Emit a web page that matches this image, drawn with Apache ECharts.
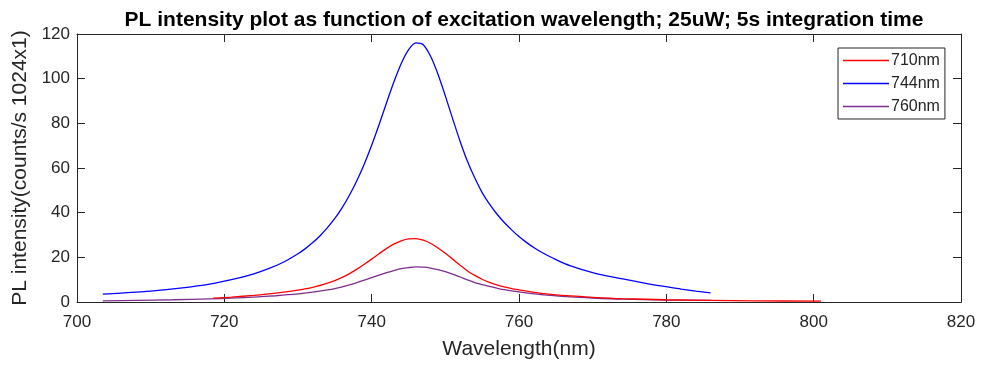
<!DOCTYPE html>
<html>
<head>
<meta charset="utf-8">
<script src="https://cdn.jsdelivr.net/npm/echarts@6/dist/echarts.min.js"></script>
<style>
  html, body { margin: 0; padding: 0; background: #fff; }
  #chart { width: 982px; height: 369px; }
</style>
</head>
<body>
<div id="chart"></div>
<script>
// Excitation spectra: wavelength (nm) and PL intensity for each excitation line
const wl710 = [718.5, 721, 724, 727, 730, 732, 734, 735, 736, 737, 738, 739, 740, 741, 742, 743, 744, 745, 746, 747, 748, 749, 750, 751, 752, 753, 754, 755, 756, 757, 758, 760, 763, 767, 770, 774, 780, 786, 792, 801];
const pl710 = [1.7, 2.2, 3.0, 4.0, 5.3, 6.5, 8.4, 9.6, 11.0, 12.7, 14.7, 16.9, 19.2, 21.6, 23.9, 25.9, 27.4, 28.3, 28.4, 27.7, 26.3, 24.2, 21.8, 19.2, 16.5, 13.9, 11.9, 10.2, 8.8, 7.7, 6.8, 5.4, 3.9, 2.7, 2.1, 1.5, 1.0, 0.7, 0.5, 0.4];

const wl744 = [703.5, 706, 710, 714, 718, 722, 724, 726, 728, 730, 731, 732, 733, 734, 735, 736, 737, 738, 739, 740, 741, 742, 743, 744, 745, 746, 747, 748, 749, 750, 751, 752, 753, 754, 755, 756, 757, 758, 759, 760, 761, 762, 763, 765, 767, 770, 773, 776, 779, 782, 784, 786];
const pl744 = [3.5, 4.0, 4.9, 6.2, 8.0, 10.8, 12.6, 14.9, 17.8, 21.6, 23.9, 26.6, 29.7, 33.3, 37.4, 42.3, 47.9, 54.4, 61.8, 70.2, 79.4, 89.0, 98.4, 106.7, 112.9, 116.0, 115.2, 110.0, 102.0, 92.3, 82.0, 72.0, 63.0, 55.5, 49.0, 43.8, 39.4, 35.6, 32.3, 29.3, 26.7, 24.4, 22.4, 19.0, 16.2, 13.2, 11.0, 9.1, 7.3, 5.8, 4.9, 4.1];

const wl760 = [703.5, 708, 713, 718, 721, 724, 727, 730, 732, 734, 735, 736, 737, 738, 739, 740, 741, 742, 743, 744, 745, 746, 747, 748, 749, 750, 751, 752, 753, 754, 755, 756, 757, 758, 760, 763, 767, 770, 774, 780, 786];
const pl760 = [0.5, 0.7, 1.0, 1.4, 1.7, 2.2, 2.8, 3.6, 4.4, 5.4, 6.0, 6.8, 7.7, 8.7, 9.8, 10.9, 12.0, 13.1, 14.1, 14.9, 15.4, 15.7, 15.6, 15.2, 14.5, 13.6, 12.5, 11.2, 9.9, 8.7, 7.8, 7.0, 6.2, 5.5, 4.5, 3.3, 2.3, 1.8, 1.3, 0.9, 0.7];

const seriesNames = ['710nm', '744nm', '760nm'];
const seriesColors = ['#ff0000', '#0000ff', '#7e2f8e'];
const xTicks = [700, 720, 740, 760, 780, 800, 820];
const yTicks = [0, 20, 40, 60, 80, 100, 120];

const pairs = (xs, ys) => xs.map((x, i) => [x, ys[i]]);
const dataSets = [pairs(wl710, pl710), pairs(wl744, pl744), pairs(wl760, pl760)];

const FONT = '"Liberation Sans", Arial, Helvetica, sans-serif';
const AX = '#262626';

const chart = echarts.init(document.getElementById('chart'), null, { renderer: 'canvas' });

const baseX = {
  type: 'value',
  min: xTicks[0],
  max: xTicks[xTicks.length - 1],
  interval: xTicks[1] - xTicks[0],
  splitLine: { show: false },
  axisLine: { show: true, onZero: false, lineStyle: { color: AX, width: 1 } },
  axisTick: { show: true, inside: true, length: 8, lineStyle: { color: AX, width: 1 } }
};
const baseY = {
  type: 'value',
  min: yTicks[0],
  max: yTicks[yTicks.length - 1],
  interval: yTicks[1] - yTicks[0],
  splitLine: { show: false },
  axisLine: { show: true, onZero: false, lineStyle: { color: AX, width: 1 } },
  axisTick: { show: true, inside: true, length: 8, lineStyle: { color: AX, width: 1 } }
};

chart.setOption({
  animation: false,
  backgroundColor: '#ffffff',
  title: {
    text: 'PL intensity plot as function of excitation wavelength; 25uW; 5s integration time',
    left: 519,
    textAlign: 'center',
    top: 5,
    textStyle: { fontFamily: FONT, fontSize: 21, fontWeight: 'bold', color: '#000' }
  },
  grid: { left: 77, right: 21, top: 34, bottom: 67, containLabel: false },
  legend: {
    data: seriesNames,
    orient: 'vertical',
    left: 838,
    top: 48,
    backgroundColor: '#fff',
    borderColor: AX,
    borderWidth: 1,
    padding: [1, 5, 1, 5],
    itemGap: 0,
    itemWidth: 46,
    itemHeight: 1.5,
    icon: 'rect',
    textStyle: { fontFamily: FONT, fontSize: 16, color: AX, padding: [0, 0, 0, -3], lineHeight: 23, height: 23 }
  },
  xAxis: [
    Object.assign({}, baseX, {
      position: 'bottom',
      name: 'Wavelength(nm)',
      nameLocation: 'middle',
      nameGap: 37,
      nameTextStyle: { fontFamily: FONT, fontSize: 21, color: AX },
      axisLabel: { fontFamily: FONT, fontSize: 17, color: AX, margin: 12 }
    }),
    Object.assign({}, baseX, { position: 'top', axisLabel: { show: false } })
  ],
  yAxis: [
    Object.assign({}, baseY, {
      position: 'left',
      name: 'PL intensity(counts/s 1024x1)',
      nameLocation: 'middle',
      nameGap: 40,
      nameTextStyle: { fontFamily: FONT, fontSize: 21, color: AX },
      axisLabel: { fontFamily: FONT, fontSize: 17, color: AX, margin: 7 }
    }),
    Object.assign({}, baseY, { position: 'right', axisLabel: { show: false } })
  ],
  series: seriesNames.map((name, i) => ({
    name: name,
    type: 'line',
    xAxisIndex: 0,
    yAxisIndex: 0,
    data: dataSets[i],
    showSymbol: false,
    symbol: 'none',
    smooth: 0.3,
    color: seriesColors[i],
    lineStyle: { color: seriesColors[i], width: 1.3 },
    z: 3 - i
  }))
});
</script>
</body>
</html>
